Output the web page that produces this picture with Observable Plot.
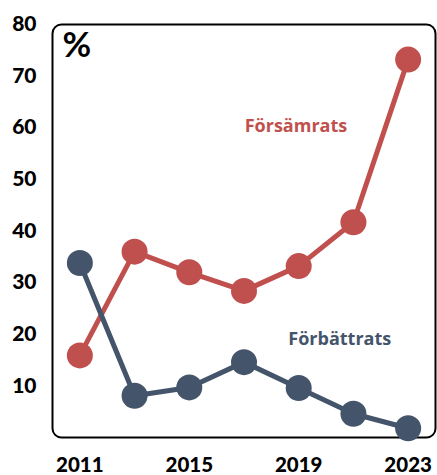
<!DOCTYPE html>
<html><head><meta charset="utf-8">
<script src="https://cdn.jsdelivr.net/npm/d3@7"></script>
<script src="https://cdn.jsdelivr.net/npm/@observablehq/plot@0.6"></script>
<style>body{margin:0;background:#fff}</style>
</head><body><div id="chart"></div>
<script>
const years = [2011, 2013, 2015, 2017, 2019, 2021, 2023];
const forsamrats = [15.9, 36.0, 32.0, 28.4, 33.2, 41.7, 73.2];
const forbattrats = [33.8, 8.1, 9.7, 14.6, 9.6, 4.6, 1.8];
const xTicks = [2011, 2015, 2019, 2023];
const yTicks = [10, 20, 30, 40, 50, 60, 70, 80];
const seriesNames = ["Försämrats", "Förbättrats"];
const colors = ["#C0504D", "#44546A"];
const labelPos = [{x: 2018.9, y: 60.3}, {x: 2020.5, y: 19.1}];

const data = [
  ...years.map((y, i) => ({year: y, value: forsamrats[i], s: seriesNames[0]})),
  ...years.map((y, i) => ({year: y, value: forbattrats[i], s: seriesNames[1]}))
];
const labels = seriesNames.map((n, i) => ({name: n, ...labelPos[i]}));

const chart = Plot.plot({
  width: 437, height: 475,
  marginLeft: 52, marginRight: 2, marginTop: 24, marginBottom: 38,
  style: {fontFamily: "Lato", fontWeight: "900", color: "#000", background: "#fff"},
  x: {domain: [2010, 2024], ticks: xTicks, tickFormat: d => String(d)},
  y: {domain: [0, 80], ticks: yTicks},
  color: {domain: seriesNames, range: colors},
  marks: [
    Plot.frame({stroke: "#000", strokeWidth: 2, rx: 9}),
    Plot.axisX({ticks: xTicks, tickSize: 0, tickPadding: 20, fontSize: 20.5, tickFormat: d => String(d), label: null}),
    Plot.axisY({ticks: yTicks, tickSize: 0, tickPadding: 16, fontSize: 21, label: null}),
    Plot.line(data, {x: "year", y: "value", z: "s", stroke: "s", strokeWidth: 5}),
    Plot.dot(data, {x: "year", y: "value", fill: "s", r: 13}),
    Plot.text(labels, {x: "x", y: "y", text: "name", fill: (d) => d.name, fontSize: 18, fontWeight: "bold", fontFamily: "Open Sans"}),
    Plot.text(["%"], {frameAnchor: "top-left", dx: 10, dy: 8, text: d => d, fontSize: 35, fontWeight: "bold", fill: "#000", textAnchor: "start", lineAnchor: "top"})
  ]
});
document.getElementById("chart").appendChild(chart);
</script>
</body></html>
